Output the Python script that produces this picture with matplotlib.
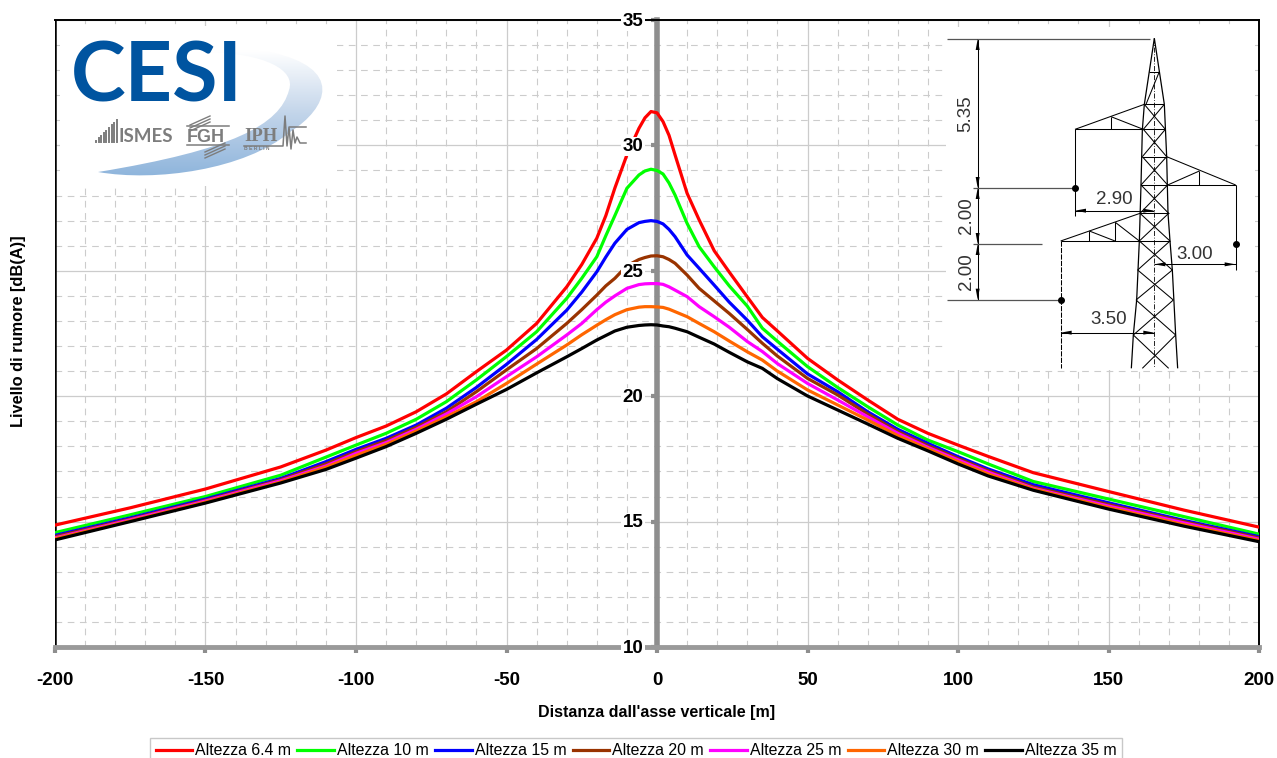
"""Livello di rumore vs distanza dall'asse verticale, per diverse altezze."""

import matplotlib

matplotlib.use("Agg")
import matplotlib.pyplot as plt
import numpy as np
from matplotlib.patches import PathPatch, Polygon, Rectangle
from matplotlib.path import Path
from matplotlib.ticker import MultipleLocator

plt.rcParams["font.family"] = ["Liberation Sans", "DejaVu Sans"]
plt.rcParams["axes.unicode_minus"] = False

distanza = [-200, -175, -150, -125, -110, -100, -90, -80, -70, -60, -50, -40, -30, -25, -20, -17, -14, -10, -6, -4, -2, 0, 2, 4, 6, 10, 14, 19, 24, 30, 35, 40, 50, 60, 70, 80, 90, 100, 110, 125, 150, 175, 200]

h_6_4 = [14.86, 15.55, 16.3, 17.18, 17.85, 18.35, 18.81, 19.38, 20.09, 20.98, 21.84, 22.9, 24.36, 25.25, 26.3, 27.2, 28.3, 29.62, 30.68, 31.1, 31.35, 31.3, 30.95, 30.4, 29.62, 28.09, 27.03, 25.8, 24.95, 23.96, 23.14, 22.6, 21.51, 20.65, 19.85, 19.08, 18.52, 18.05, 17.6, 16.95, 16.2, 15.46, 14.78]
h_10 = [14.56, 15.27, 16.0, 16.85, 17.57, 18.05, 18.52, 19.08, 19.78, 20.65, 21.58, 22.57, 23.9, 24.7, 25.56, 26.4, 27.2, 28.29, 28.82, 28.98, 29.05, 29.0, 28.86, 28.5, 28.02, 26.89, 25.96, 25.16, 24.4, 23.59, 22.71, 22.19, 21.18, 20.35, 19.58, 18.85, 18.25, 17.79, 17.3, 16.6, 15.9, 15.2, 14.5]
h_15 = [14.45, 15.15, 15.9, 16.72, 17.39, 17.88, 18.32, 18.85, 19.52, 20.35, 21.27, 22.26, 23.43, 24.15, 24.96, 25.55, 26.1, 26.65, 26.92, 26.97, 27.0, 26.97, 26.87, 26.65, 26.36, 25.63, 25.1, 24.43, 23.75, 23.03, 22.37, 21.87, 20.89, 20.18, 19.38, 18.68, 18.12, 17.59, 17.1, 16.47, 15.75, 15.05, 14.4]
h_20 = [14.4, 15.1, 15.85, 16.67, 17.3, 17.79, 18.23, 18.76, 19.38, 20.18, 21.05, 21.9, 22.9, 23.45, 24.03, 24.4, 24.7, 25.2, 25.45, 25.53, 25.59, 25.6, 25.56, 25.45, 25.3, 24.83, 24.3, 23.8, 23.3, 22.66, 22.11, 21.6, 20.71, 20.05, 19.29, 18.59, 18.03, 17.52, 17.03, 16.38, 15.68, 15.0, 14.35]
h_25 = [14.35, 15.07, 15.82, 16.63, 17.22, 17.72, 18.15, 18.68, 19.29, 19.98, 20.78, 21.57, 22.44, 22.9, 23.45, 23.75, 24.0, 24.3, 24.45, 24.48, 24.49, 24.49, 24.46, 24.36, 24.23, 23.97, 23.57, 23.17, 22.75, 22.18, 21.78, 21.3, 20.51, 19.85, 19.18, 18.52, 17.96, 17.46, 16.97, 16.33, 15.62, 14.95, 14.3]
h_30 = [14.32, 15.03, 15.78, 16.58, 17.17, 17.64, 18.08, 18.61, 19.18, 19.78, 20.51, 21.28, 22.04, 22.45, 22.83, 23.05, 23.25, 23.45, 23.55, 23.57, 23.57, 23.56, 23.54, 23.47, 23.37, 23.17, 22.9, 22.57, 22.2, 21.77, 21.44, 21.0, 20.25, 19.65, 19.05, 18.43, 17.9, 17.39, 16.9, 16.3, 15.56, 14.88, 14.25]
h_35 = [14.27, 15.0, 15.74, 16.54, 17.08, 17.53, 17.99, 18.52, 19.08, 19.68, 20.27, 20.93, 21.57, 21.9, 22.24, 22.42, 22.6, 22.75, 22.82, 22.84, 22.85, 22.84, 22.8, 22.77, 22.71, 22.57, 22.35, 22.08, 21.75, 21.37, 21.11, 20.7, 20.01, 19.45, 18.89, 18.32, 17.82, 17.3, 16.82, 16.25, 15.5, 14.82, 14.2]

serie = [
    ("Altezza 6.4 m", h_6_4, "#ff0000"),
    ("Altezza 10 m", h_10, "#00ff00"),
    ("Altezza 15 m", h_15, "#0000ff"),
    ("Altezza 20 m", h_20, "#993300"),
    ("Altezza 25 m", h_25, "#ff00ff"),
    ("Altezza 30 m", h_30, "#ff6600"),
    ("Altezza 35 m", h_35, "#000000"),
]

x_ticks = [-200, -150, -100, -50, 0, 50, 100, 150, 200]
y_ticks = [10, 15, 20, 25, 30, 35]

GRIGIO = "#8e8e8e"
W, H = 1277, 758

fig = plt.figure(figsize=(W / 100, H / 100), dpi=100)
ax = fig.add_axes([55 / W, 1 - 647 / H, 1204 / W, 627 / H])

for nome, valori, colore in serie:
    ax.plot(distanza, valori, color=colore, lw=2.3, label=nome, zorder=3)

ax.set_xlim(-200, 200)
ax.set_ylim(10, 35)
ax.set_axisbelow(True)
ax.set_xticks(x_ticks)
ax.set_yticks(y_ticks)
ax.xaxis.set_minor_locator(MultipleLocator(10))
ax.yaxis.set_minor_locator(MultipleLocator(1))
ax.grid(True, which="major", color="#cccccc", lw=0.9, ls="-")
ax.grid(True, which="minor", color="#cccccc", lw=0.8, ls=(0, (6, 5)))
ax.tick_params(which="minor", length=0)
ax.tick_params(axis="x", which="major", color=GRIGIO, width=3, length=4, pad=14, labelsize=13.5)
ax.tick_params(axis="y", which="major", color=GRIGIO, width=3, length=4, labelleft=False)
for lab in ax.get_xticklabels():
    lab.set_fontweight("bold")

ax.spines["left"].set_position(("data", 0))
ax.spines["left"].set_color(GRIGIO)
ax.spines["left"].set_linewidth(4)
ax.spines["left"].set_zorder(1.5)
ax.spines["bottom"].set_color("#9a9a9a")
ax.spines["bottom"].set_linewidth(3.5)
ax.spines["bottom"].set_zorder(2.5)
ax.spines["top"].set_linewidth(1.4)
ax.spines["right"].set_linewidth(1.4)
ax.axvline(-200, color="black", lw=1.8, zorder=2)

for v in y_ticks:
    ax.text(-4.5, v - 0.05, str(v), ha="right", va="center", fontsize=13.5, fontweight="bold", zorder=6,
            bbox=dict(facecolor="white", edgecolor="none", pad=1.0))

fig.text(657 / W, 1 - 713 / H, "Distanza dall'asse verticale [m]", ha="center", va="center", fontsize=11.5, fontweight="bold")
fig.text(19 / W, 1 - 331 / H, "Livello di rumore [dB(A)]", ha="center", va="center", rotation=90, fontsize=11.8, fontweight="bold")

leg = fig.legend(loc="lower left", bbox_to_anchor=(150 / W, 1 - 764 / H), bbox_transform=fig.transFigure,
                 ncol=7, fontsize=11.4, frameon=True, fancybox=False, edgecolor="#c8c8c8", framealpha=1,
                 columnspacing=0.4, handlelength=2.3, handletextpad=0.2, borderpad=0.35, borderaxespad=0)
for riga in leg.get_lines():
    riga.set_linewidth(2.3)

# logo e schema del traliccio, in coordinate pixel
ov = fig.add_axes([0, 0, 1, 1], facecolor="none")
ov.set_xlim(0, W)
ov.set_ylim(H, 0)
ov.axis("off")
ov.add_patch(Rectangle((60, 26), 277, 160, fc="white", ec="none", zorder=1))
ov.add_patch(Rectangle((946, 27), 309, 343, fc="white", ec="none", zorder=1))

verts = [(98, 172), (155, 182), (245, 170), (290, 132), (328, 108), (345, 68), (270, 52), (240, 49), (220, 50), (205, 52),
         (265, 53), (296, 70), (289, 90), (280, 125), (232, 150), (98, 172)]
codes = [Path.MOVETO] + [Path.CURVE4] * 15
sagoma = PathPatch(Path(verts, codes), fc="none", ec="none")
ov.add_patch(sagoma)
grad = np.linspace(0, 1, 128).reshape(-1, 1)
cmap = matplotlib.colors.LinearSegmentedColormap.from_list("swoosh", ["#ffffff", "#c3d5ea", "#8fb5dc"])
im = ov.imshow(grad, extent=(90, 330, 176, 50), cmap=cmap, aspect="auto", zorder=2)
im.set_clip_path(sagoma)
ov.set_xlim(0, W)
ov.set_ylim(H, 0)

ov.text(71, 102, "CESI", family=["Lato", "Liberation Sans"], fontweight="bold", fontsize=59.5,
        color="#0054a0", ha="left", va="baseline", zorder=3)
LOGO = "#7d7d7d"
for i in range(9):
    ov.plot([96 + i * 2.6] * 2, [142, 141 - i * 2.6], color=LOGO, lw=1.4, zorder=3)
ov.text(119, 142, "ISMES", fontweight="bold", fontsize=13.5, color=LOGO, family=["Lato", "Liberation Sans"], va="baseline", zorder=3)
ov.text(187, 142, "FGH", fontweight="bold", fontsize=13, color=LOGO, va="baseline", zorder=3)
ov.text(244, 141, "IPH", fontweight="bold", fontsize=13.5, color=LOGO, va="baseline", family="Liberation Serif", zorder=3)
ov.text(244, 150, "B E R L I N", fontsize=3.6, fontweight="bold", color=LOGO, va="baseline", zorder=3)
for y0 in (122, 125, 128):
    ov.plot([190, 210], [y0 + 3, y0 - 6], color=LOGO, lw=1, zorder=3)
    ov.plot([205, 225], [y0 + 30, y0 + 21], color=LOGO, lw=1, zorder=3)
ov.plot([187, 229], [126, 126], color=LOGO, lw=1.1, zorder=3)
ov.plot([187, 229], [145, 145], color=LOGO, lw=1.1, zorder=3)
ov.plot([244, 283, 285, 287, 289, 291, 293, 295, 297, 300, 306], [146, 146, 116, 146, 127, 149, 130, 143, 137, 143, 143], color=LOGO, lw=1.1, zorder=3)
ov.plot([290, 306], [127, 127], color=LOGO, lw=1.1, zorder=3)


def zpx(x, y):
    # da coordinate del ritaglio 3x a pixel
    return 930 + x / 3, 10 + y / 3


def seg(p, q, color="black", lw=0.75, ls="-"):
    a, b = zpx(*p), zpx(*q)
    ov.plot([a[0], b[0]], [a[1], b[1]], color=color, lw=lw, ls=ls, zorder=4, solid_capstyle="butt")


def freccia(p, dx, dy):
    # punta sul punto p, corpo in direzione (dx, dy)
    x, y = zpx(*p)
    nx, ny = -dy, dx
    ov.add_patch(Polygon([(x, y), (x + 11 * dx + 2 * nx, y + 11 * dy + 2 * ny), (x + 11 * dx - 2 * nx, y + 11 * dy - 2 * ny)],
                         fc="black", ec="none", zorder=5))


gambe_sx = [(673, 85), (643, 283), (637, 360), (633, 525), (628, 693), (620, 870), (610, 975), (604, 1075)]
gambe_dx = [(673, 85), (703, 283), (710, 440), (714, 610), (720, 693), (727, 780), (737, 975), (743, 1075)]
for gamba in (gambe_sx, gambe_dx):
    for p, q in zip(gamba[:-1], gamba[1:]):
        seg(p, q, lw=0.9)

aste = [
    ((643, 283), (703, 283)), ((640, 358), (706, 358)), ((637, 440), (710, 440)), ((633, 525), (713, 525)),
    ((630, 610), (716, 610)), ((628, 693), (720, 693)), ((658, 185), (688, 185)), ((688, 185), (648, 283)),
    ((643, 283), (706, 358)), ((703, 283), (640, 358)), ((640, 358), (710, 440)), ((706, 358), (637, 440)),
    ((637, 440), (713, 525)), ((710, 440), (633, 525)), ((633, 525), (716, 610)), ((713, 525), (630, 610)),
    ((630, 610), (720, 693)), ((716, 610), (628, 693)), ((628, 693), (727, 780)), ((720, 693), (623, 780)),
    ((623, 780), (730, 870)), ((727, 780), (618, 870)), ((618, 870), (737, 975)), ((730, 870), (610, 975)),
    ((610, 975), (716, 1075)), ((737, 975), (637, 1075)),
    ((643, 283), (435, 358)), ((435, 358), (640, 358)), ((543, 320), (543, 358)), ((543, 320), (640, 358)),
    ((710, 440), (917, 525)), ((917, 525), (713, 525)), ((808, 483), (808, 525)), ((808, 483), (713, 525)),
    ((630, 610), (392, 693)), ((392, 693), (628, 693)), ((478, 663), (478, 693)), ((478, 663), (555, 693)),
    ((556, 637), (556, 693)), ((556, 637), (628, 693)),
    ((435, 358), (435, 618)), ((917, 525), (917, 780)),
    ((143, 87), (143, 869)), ((435, 602), (673, 602)), ((673, 763), (917, 763)), ((392, 968), (673, 968)),
]
for p, q in aste:
    seg(p, q)
seg((392, 693), (392, 1075), lw=0.75, ls=(0, (5, 1.2)))
seg((673, 85), (673, 1075), lw=0.6, ls=(0, (6, 2, 1, 2)))

for p, q in [((50, 87), (660, 87)), ((128, 534), (425, 534)), ((128, 702), (335, 702)), ((50, 869), (385, 869))]:
    seg(p, q, color="#555555", lw=0.9)

for p, dx, dy in [((143, 87), 0, 1), ((143, 534), 0, -1), ((143, 534), 0, 1), ((143, 702), 0, -1), ((143, 702), 0, 1), ((143, 869), 0, -1),
                  ((435, 602), 1, 0), ((673, 602), -1, 0), ((673, 763), 1, 0), ((917, 763), -1, 0), ((392, 968), 1, 0), ((673, 968), -1, 0)]:
    freccia(p, dx, dy)

for x, y in [(435, 534), (917, 702), (392, 869)]:
    px, py = zpx(x, y)
    ov.plot(px, py, "o", color="black", ms=4, zorder=6)

for testo, x, y, rot in [("5.35", 108, 310, 90), ("2.00", 110, 618, 90), ("2.00", 110, 785, 90),
                         ("2.90", 553, 570, 0), ("3.00", 795, 733, 0), ("3.50", 537, 930, 0)]:
    px, py = zpx(x, y)
    ov.text(px, py, testo, rotation=rot, ha="center", va="center", fontsize=13.5, color="#333333", zorder=6)

fig.savefig("out.png", dpi=100)
plt.close(fig)
